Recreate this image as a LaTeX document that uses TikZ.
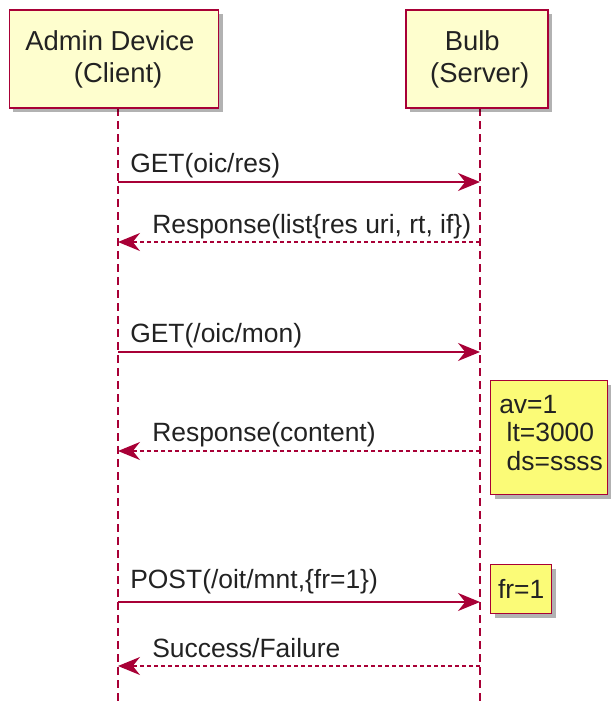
\documentclass[tikz,border=0pt]{standalone}
\usepackage{fontspec}
\setmainfont{Liberation Sans}
\usetikzlibrary{arrows.meta,shadows}
\definecolor{umlred}{HTML}{A80036}
\definecolor{partfill}{HTML}{FEFECE}
\definecolor{notefill}{HTML}{FBFB77}
\definecolor{umltext}{HTML}{222222}

\begin{document}
\begin{tikzpicture}[x=0.025cm, y=-0.025cm,
  part/.style={draw=umlred, fill=partfill, line width=1.2pt, minimum height=2.45cm, align=center, text=umltext,
    font=\fontsize{19.5}{22.7}\selectfont, drop shadow={shadow xshift=0.1cm, shadow yshift=-0.1cm, fill=black, opacity=0.3}},
  notebox/.style={draw=umlred, fill=notefill, line width=1pt, text=umltext, font=\fontsize{18.8}{20}\selectfont,
    drop shadow={shadow xshift=0.1cm, shadow yshift=-0.1cm, fill=black, opacity=0.3}},
  notetext/.style={text=umltext, inner sep=0pt, align=left, font=\fontsize{18.8}{20}\selectfont},
  lifeline/.style={draw=umlred, line width=1pt, dash pattern=on 0.2cm off 0.125cm},
  msg/.style={draw=umlred, line width=1.1pt, -{Stealth[length=0.55cm, width=0.45cm, inset=0.18cm]}},
  reply/.style={msg, dash pattern=on 0.1cm off 0.075cm},
  lbl/.style={text=umltext, inner sep=0pt, anchor=base west, font=\fontsize{18.8}{22}\selectfont}]
\useasboundingbox (0,0) rectangle (611,704);

% lifelines
\coordinate (adtop) at (118,108);
\coordinate (adend) at (118,704);
\coordinate (butop) at (480,108);
\coordinate (buend) at (480,704);
\draw[lifeline] (adtop) -- (adend);
\draw[lifeline] (butop) -- (buend);

\node[part, minimum width=5.225cm] at (114,59) (admin) {Admin Device\hspace*{0.3em}\\\hspace*{0.3em}(Client)};
\node[part, minimum width=3.55cm] at (477,59) (bulb) {Bulb\hspace*{0.35em}\\\hspace*{0.2em}(Server)};

% messages
\coordinate (m1a) at (118,182);  \coordinate (m1b) at (480,182);
\coordinate (m2a) at (118,242);  \coordinate (m2b) at (480,242);
\coordinate (m3a) at (118,352);  \coordinate (m3b) at (480,352);
\coordinate (m4a) at (118,451);  \coordinate (m4b) at (480,451);
\coordinate (m5a) at (118,602);  \coordinate (m5b) at (480,602);
\coordinate (m6a) at (118,666);  \coordinate (m6b) at (480,666);

\draw[msg] (m1a) -- (m1b);
\draw[reply] (m2b) -- (m2a);
\draw[msg] (m3a) -- (m3b);
\draw[reply] (m4b) -- (m4a);
\draw[msg] (m5a) -- (m5b);
\draw[reply] (m6b) -- (m6a);

\node[lbl] at (130,172) (t1) {GET(oic/res)};
\node[lbl] at (152,233) (t2) {Response(list\{res uri, rt, if\})};
\node[lbl] at (130,342) (t3) {GET(/oic/mon)};
\node[lbl] at (152,441) (t4) {Response(content)};
\node[lbl] at (130,588) (t5) {POST(/oit/mnt,\{fr=1\})};
\node[lbl] at (152,657) (t6) {Success/Failure};

% notes
\node[notebox, minimum width=2.925cm, minimum height=2.85cm, anchor=north west] at (490,380) (note1) {};
\node[notetext, anchor=west] at (499,433) (n1) {av=1\\\hspace*{0.28em}lt=3000\\\hspace*{0.28em}ds=ssss};
\node[notebox, minimum width=1.525cm, minimum height=1.225cm, anchor=north west] at (490,564) (note2) {fr=1};
\end{tikzpicture}
\end{document}
